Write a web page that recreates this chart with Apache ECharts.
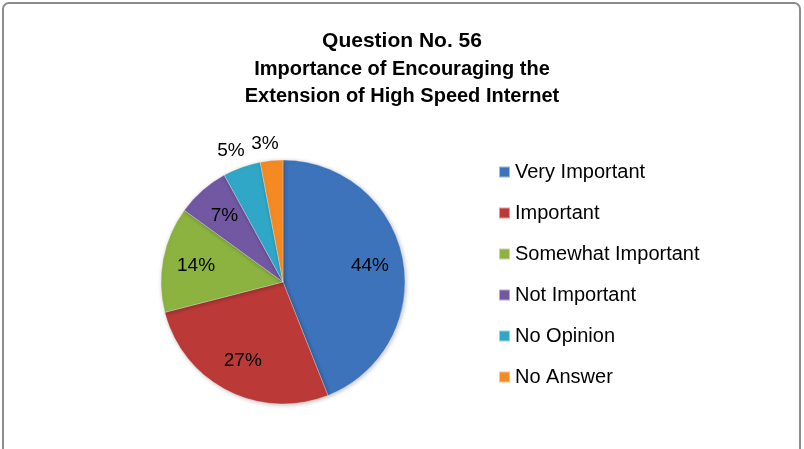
<!DOCTYPE html>
<html>
<head>
<meta charset="utf-8">
<script src="https://cdn.jsdelivr.net/npm/echarts@6/dist/echarts.min.js"></script>
<style>
  html, body { margin: 0; padding: 0; background: #fff; }
  #chart { width: 804px; height: 449px; }
</style>
</head>
<body>
<div id="chart"></div>
<script>
var categories = ['Very Important', 'Important', 'Somewhat Important', 'Not Important', 'No Opinion', 'No Answer'];
var shares = [44, 27, 14, 7, 5, 3];
var sliceColors = ['#3c73bb', '#bb3a38', '#8cb340', '#7257a3', '#31a7c7', '#f48a22'];
var outsideLabels = ['No Opinion', 'No Answer'];

var font = '"Liberation Sans", Arial, sans-serif';

var myChart = echarts.init(document.getElementById('chart'));

// visible pie: carries colours, legend and the two small outside labels
var pieData = categories.map(function (name, i) {
  var outside = outsideLabels.indexOf(name) >= 0;
  return {
    name: name,
    value: shares[i],
    itemStyle: { color: sliceColors[i] },
    label: { show: outside }
  };
});

// transparent pie, bigger radius, so inside labels land further out like Excel does
var labelData = categories.map(function (name, i) {
  var outside = outsideLabels.indexOf(name) >= 0;
  return { name: name, value: shares[i], label: { show: !outside } };
});

var option = {
  backgroundColor: '#fff',
  animation: false,
  title: {
    text: 'Question No. 56',
    subtext: 'Importance of Encouraging the\nExtension of High Speed Internet',
    left: 'center',
    top: 27,
    padding: 0,
    itemGap: 1,
    textStyle: { fontFamily: font, fontSize: 21, fontWeight: 'bold', color: '#000', lineHeight: 28 },
    subtextStyle: { fontFamily: font, fontSize: 20, fontWeight: 'bold', color: '#000', lineHeight: 27 }
  },
  legend: {
    orient: 'vertical',
    left: 498,
    top: 160,
    padding: 0,
    itemWidth: 11,
    itemHeight: 11,
    itemGap: 17,
    icon: 'rect',
    data: categories,
    textStyle: { fontFamily: font, fontSize: 20, color: '#000', lineHeight: 24 }
  },
  graphic: [{
    type: 'rect',
    shape: { x: 3, y: 3, width: 797, height: 470, r: 6 },
    style: { fill: 'none', stroke: '#8c8c8c', lineWidth: 2 },
    silent: true
  }],
  series: [
    {
      name: 'Question 56',
      type: 'pie',
      center: [283, 282],
      radius: 122,
      startAngle: 90,
      avoidLabelOverlap: false,
      itemStyle: {
        borderColor: 'rgba(255,255,255,0.5)',
        borderWidth: 0.6,
        shadowBlur: 4,
        shadowOffsetX: 1,
        shadowOffsetY: 1,
        shadowColor: 'rgba(0,0,0,0.25)'
      },
      label: {
        position: 'outside',
        formatter: '{d}%',
        fontFamily: font,
        fontSize: 19,
        color: '#000'
      },
      labelLine: { show: false, length: 17, length2: 0 },
      labelLayout: function () { return { align: 'center' }; },
      data: pieData
    },
    {
      name: 'labels',
      type: 'pie',
      center: [283, 282],
      radius: 171,
      startAngle: 90,
      silent: true,
      z: 3,
      itemStyle: { color: 'rgba(0,0,0,0)' },
      label: {
        position: 'inside',
        formatter: '{d}%',
        fontFamily: font,
        fontSize: 19,
        color: '#000'
      },
      labelLine: { show: false },
      data: labelData
    }
  ]
};

myChart.setOption(option);
</script>
</body>
</html>
